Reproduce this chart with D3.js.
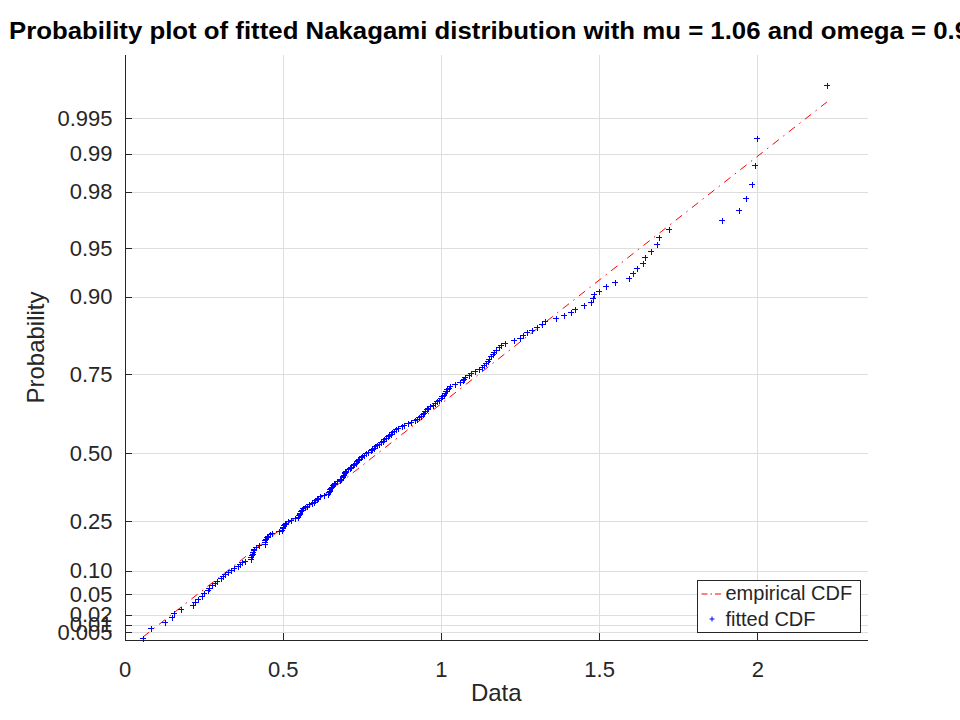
<!DOCTYPE html>
<html>
<head>
<meta charset="utf-8">
<script src="https://cdn.jsdelivr.net/npm/d3@7"></script>
<style>
  body { margin: 0; background: #fff; }
  text { font-family: "Liberation Sans", Arial, sans-serif; fill: #262626; }
</style>
</head>
<body>
<div id="chart"></div>
<script>
// Probability plot, Nakagami fit (mu = 1.06, omega = 0.905)

// sorted sample
const sampleData = [
  0.058, 0.082, 0.128, 0.148, 0.154, 0.177, 0.214, 0.222, 0.230, 0.242,
  0.250, 0.261, 0.264, 0.274, 0.283, 0.292, 0.303, 0.310, 0.317, 0.325,
  0.334, 0.345, 0.357, 0.362, 0.369, 0.379, 0.397, 0.399, 0.402, 0.404,
  0.406, 0.408, 0.409, 0.413, 0.425, 0.441, 0.442, 0.443, 0.446, 0.449,
  0.453, 0.458, 0.466, 0.487, 0.495, 0.499, 0.500, 0.502, 0.505, 0.508,
  0.516, 0.525, 0.536, 0.546, 0.549, 0.552, 0.554, 0.556, 0.559, 0.564,
  0.570, 0.576, 0.583, 0.592, 0.598, 0.602, 0.606, 0.610, 0.617, 0.630,
  0.642, 0.646, 0.647, 0.649, 0.651, 0.653, 0.657, 0.661, 0.665, 0.671,
  0.678, 0.684, 0.688, 0.690, 0.692, 0.694, 0.696, 0.700, 0.705, 0.710,
  0.715, 0.720, 0.725, 0.730, 0.734, 0.737, 0.741, 0.745, 0.750, 0.754,
  0.761, 0.769, 0.777, 0.781, 0.786, 0.791, 0.796, 0.802, 0.808, 0.814,
  0.819, 0.824, 0.830, 0.835, 0.840, 0.845, 0.851, 0.857, 0.864, 0.874,
  0.883, 0.894, 0.905, 0.916, 0.923, 0.930, 0.937, 0.943, 0.946, 0.949,
  0.953, 0.957, 0.965, 0.972, 0.980, 0.986, 0.992, 0.998, 1.003, 1.007,
  1.011, 1.015, 1.019, 1.023, 1.027, 1.043, 1.060, 1.068, 1.072, 1.076,
  1.086, 1.095, 1.106, 1.118, 1.127, 1.136, 1.142, 1.147, 1.152, 1.157,
  1.162, 1.167, 1.174, 1.181, 1.190, 1.202, 1.229, 1.247, 1.259, 1.270,
  1.285, 1.301, 1.317, 1.329, 1.363, 1.387, 1.410, 1.422, 1.450, 1.473,
  1.479, 1.482, 1.497, 1.519, 1.549, 1.593, 1.605, 1.617, 1.636, 1.645,
  1.663, 1.681, 1.688, 1.719, 1.887, 1.941, 1.963, 1.983, 1.991, 1.997,
  2.220
];
const probTicks = [0.005, 0.01, 0.02, 0.05, 0.1, 0.25, 0.5, 0.75, 0.9, 0.95, 0.98, 0.99, 0.995];
const probLabels = ["0.005", "0.01", "0.02", "0.05", "0.10", "0.25", "0.50", "0.75", "0.90", "0.95", "0.98", "0.99", "0.995"];
const xTicks = [0, 0.5, 1, 1.5, 2];
const xTickLabels = ["0", "0.5", "1", "1.5", "2"];
const MU = 1.06;
const OMEGA = 0.905;

// Plot constants
const MARGIN = {LEFT: 124.5, RIGHT: 92, TOP: 55, BOTTOM: 80};
const WIDTH = 960 - MARGIN.LEFT - MARGIN.RIGHT;
const HEIGHT = 720 - MARGIN.TOP - MARGIN.BOTTOM;
const AXIS_COLOR = "#262626";
const GRID_COLOR = "#dedede";

// log gamma (Lanczos)
function gammaln(z) {
  const c = [0.99999999999980993, 676.5203681218851, -1259.1392167224028,
    771.32342877765313, -176.61502916214059, 12.507343278686905,
    -0.13857109526572012, 9.9843695780195716e-6, 1.5056327351493116e-7];
  if (z < 0.5) return Math.log(Math.PI / Math.sin(Math.PI * z)) - gammaln(1 - z);
  z -= 1;
  let s = c[0];
  for (let i = 1; i < 9; i++) s += c[i] / (z + i);
  const t = z + 7.5;
  return 0.5 * Math.log(2 * Math.PI) + (z + 0.5) * Math.log(t) - t + Math.log(s);
}

// regularized lower incomplete gamma
function gammaP(a, x) {
  if (x <= 0) return 0;
  const lead = Math.exp(-x + a * Math.log(x) - gammaln(a));
  if (x < a + 1) {
    let sum = 1 / a, del = sum, ap = a;
    for (let n = 0; n < 1000; n++) {
      ap += 1; del *= x / ap; sum += del;
      if (Math.abs(del) < Math.abs(sum) * 1e-15) break;
    }
    return sum * lead;
  }
  let b = x + 1 - a, c = 1e300, d = 1 / b, h = d;
  for (let i = 1; i < 1000; i++) {
    const an = -i * (i - a);
    b += 2;
    d = an * d + b; if (Math.abs(d) < 1e-300) d = 1e-300;
    c = b + an / c; if (Math.abs(c) < 1e-300) c = 1e-300;
    d = 1 / d;
    const del = d * c;
    h *= del;
    if (Math.abs(del - 1) < 1e-15) break;
  }
  return 1 - lead * h;
}

function gammaInv(p, a) {
  let lo = 0, hi = 100;
  for (let k = 0; k < 120; k++) {
    const m = (lo + hi) / 2;
    if (gammaP(a, m) < p) lo = m; else hi = m;
  }
  return (lo + hi) / 2;
}

// Nakagami inverse cdf -> probability axis is drawn in these units
function nakaInv(p) {
  return Math.sqrt(gammaInv(p, MU) * OMEGA / MU);
}

const svg = d3.select("#chart")
  .append("svg")
  .attr("width", 960)
  .attr("height", 720);

svg.append("rect").attr("width", 960).attr("height", 720).attr("fill", "#fff");

const g = svg.append("g")
  .attr("transform", "translate(" + MARGIN.LEFT + "," + MARGIN.TOP + ")");

// Scales
const x = d3.scaleLinear().domain([0, 2.35]).range([0, WIDTH]);
const y = d3.scaleLinear().domain([0.0461, 2.4101]).range([HEIGHT, 0]);
const yTickPos = probTicks.map(nakaInv);

// Grid
g.append("g")
  .attr("class", "grid")
  .attr("transform", "translate(0," + HEIGHT + ")")
  .call(d3.axisBottom(x).tickValues(xTicks).tickSize(-HEIGHT).tickFormat("").tickSizeOuter(0))
  .call(s => s.select(".domain").remove())
  .call(s => s.selectAll("line").attr("stroke", GRID_COLOR).attr("shape-rendering", "crispEdges"));

g.append("g")
  .attr("class", "grid")
  .call(d3.axisLeft(y).tickValues(yTickPos).tickSize(-WIDTH).tickFormat("").tickSizeOuter(0))
  .call(s => s.select(".domain").remove())
  .call(s => s.selectAll("line").attr("stroke", GRID_COLOR).attr("shape-rendering", "crispEdges"));

// Axes
const xAxisGroup = g.append("g")
  .attr("transform", "translate(0," + HEIGHT + ")")
  .call(d3.axisBottom(x).tickValues(xTicks).tickFormat((d, i) => xTickLabels[i])
    .tickSizeInner(-7).tickSizeOuter(0).tickPadding(21));

const yAxisGroup = g.append("g")
  .call(d3.axisLeft(y).tickValues(yTickPos).tickFormat((d, i) => probLabels[i])
    .tickSizeInner(-7).tickSizeOuter(0).tickPadding(12));

[xAxisGroup, yAxisGroup].forEach(ax => {
  ax.select(".domain").attr("stroke", AXIS_COLOR).attr("shape-rendering", "crispEdges");
  ax.selectAll(".tick line").attr("stroke", AXIS_COLOR).attr("shape-rendering", "crispEdges");
  ax.selectAll(".tick text")
    .attr("fill", AXIS_COLOR)
    .style("font-family", "'Liberation Sans', Arial, sans-serif")
    .style("font-size", "22px");
});
// left axis reaches the top, bottom axis to the right edge (no box)
yAxisGroup.select(".domain").attr("d", "M0.5," + HEIGHT + "V0");
xAxisGroup.select(".domain").attr("d", "M0,0.5H" + WIDTH);

// Reference line (labelled empirical CDF)
const ext = d3.extent(sampleData);
g.append("path")
  .datum([[ext[0], ext[0]], [ext[1], ext[1]]])
  .attr("fill", "none")
  .attr("stroke", "#ff0000")
  .attr("stroke-width", 1)
  .attr("stroke-dasharray", "8,5.5,1.5,5.5")
  .attr("d", d3.line().x(d => x(d[0])).y(d => y(d[1])));

// Data points
const n = sampleData.length;
const plus = "M-3,0H3M0,-3V3";
g.selectAll("path.pt")
  .data(sampleData)
  .enter()
  .append("path")
  .attr("class", "pt")
  .attr("d", plus)
  .attr("fill", "none")
  .attr("stroke", "#0000ff")
  .attr("stroke-width", 1)
  .attr("shape-rendering", "crispEdges")
  .attr("transform", (d, i) => {
    const px = Math.round(x(d)) + 0.5;
    const py = Math.round(y(nakaInv((i + 0.5) / n))) + 0.5;
    return "translate(" + px + "," + py + ")";
  });

// Title (runs past the right edge, as in the original)
svg.append("text")
  .attr("transform", "translate(9,38.5)scale(1.075,1)")
  .style("font-size", "24px")
  .style("font-weight", "bold")
  .style("fill", "#000")
  .text("Probability plot of fitted Nakagami distribution with mu = " + MU.toFixed(2) + " and omega = " + OMEGA);

// Axis labels
svg.append("text")
  .attr("x", MARGIN.LEFT + WIDTH / 2)
  .attr("y", 701)
  .attr("text-anchor", "middle")
  .style("font-size", "24px")
  .text("Data");

svg.append("text")
  .attr("transform", "translate(44," + (MARGIN.TOP + HEIGHT / 2) + ")rotate(-90)")
  .attr("text-anchor", "middle")
  .style("font-size", "24px")
  .text("Probability");

// Legend
const legend = svg.append("g").attr("transform", "translate(697.5,580.5)");
legend.append("rect")
  .attr("width", 163)
  .attr("height", 52)
  .attr("fill", "#fff")
  .attr("stroke", AXIS_COLOR)
  .attr("shape-rendering", "crispEdges");
legend.append("line")
  .attr("x1", 4).attr("x2", 25).attr("y1", 13.5).attr("y2", 13.5)
  .attr("stroke", "#ff0000")
  .attr("stroke-dasharray", "6,3,1.5,3");
legend.append("path")
  .attr("d", "M-2.5,0H2.5M0,-2.5V2.5")
  .attr("transform", "translate(14.5,38.5)")
  .attr("stroke", "#0000ff")
  .attr("fill", "none");
legend.append("text").attr("x", 28).attr("y", 19.5).style("font-size", "20px").text("empirical CDF");
legend.append("text").attr("x", 28).attr("y", 45.5).style("font-size", "20px").text("fitted CDF");
</script>
</body>
</html>
